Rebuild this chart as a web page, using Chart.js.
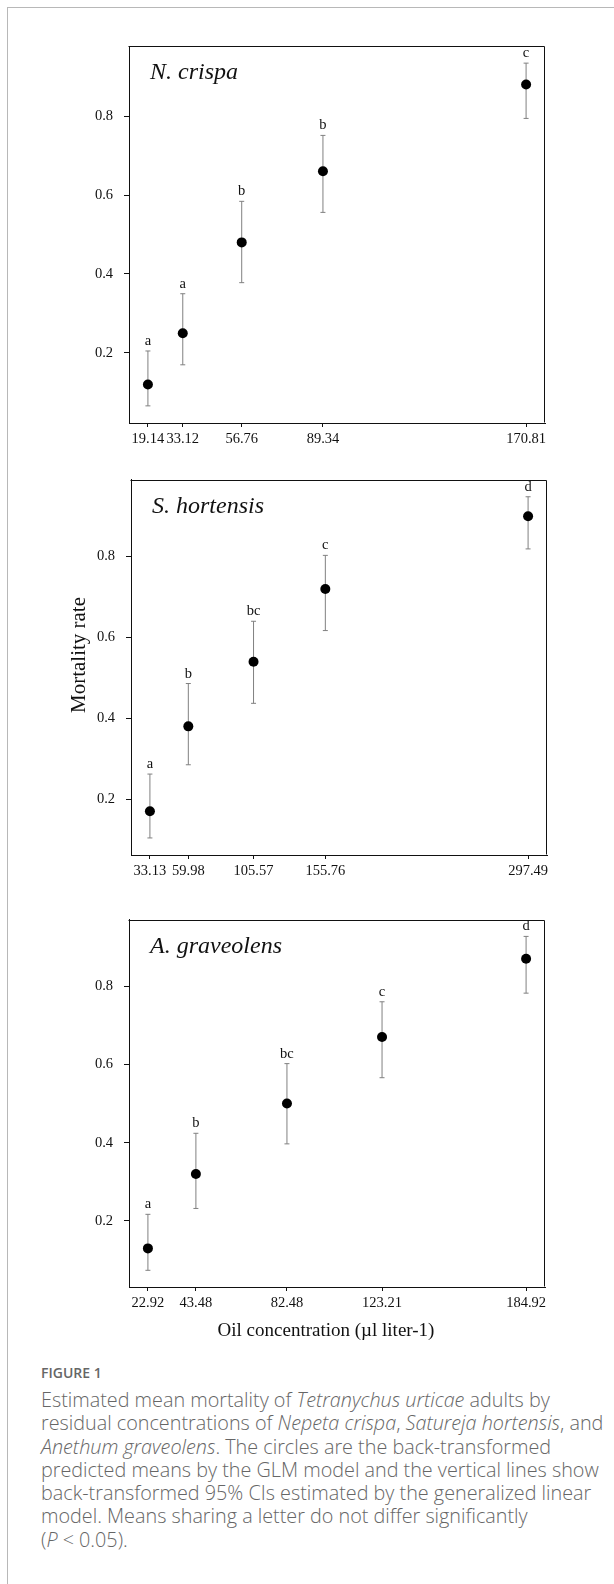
<!DOCTYPE html>
<html>
<head>
<meta charset="utf-8">
<script src="https://cdn.jsdelivr.net/npm/chart.js@4.4.1/dist/chart.umd.min.js"></script>
<style>
html,body{margin:0;padding:0;background:#fff;}
body{width:614px;height:1584px;position:relative;overflow:hidden;}
#frame{position:absolute;left:7px;top:7px;width:620px;height:1600px;border-top:1px solid #b8b8b8;border-left:1px solid #b8b8b8;}
canvas{position:absolute;left:0;}
#figlabel{position:absolute;left:41px;top:1363px;font-family:"Open Sans",sans-serif;font-size:14px;font-weight:600;line-height:20px;color:#666;white-space:nowrap;}
#caption{position:absolute;left:41px;top:1388px;font-family:"Open Sans",sans-serif;font-size:19.8px;font-weight:300;line-height:23.3px;color:#666;white-space:nowrap;}
</style>
</head>
<body>
<div id="frame"></div>
<canvas id="c1" width="614" height="460" style="top:0px"></canvas>
<canvas id="c2" width="614" height="440" style="top:460px"></canvas>
<canvas id="c3" width="614" height="450" style="top:900px"></canvas>
<div id="figlabel">FIGURE 1</div>
<div id="caption">Estimated mean mortality of <i>Tetranychus urticae</i> adults by<br>residual concentrations of <i>Nepeta crispa</i>, <i>Satureja hortensis</i>, and<br><i>Anethum graveolens</i>. The circles are the back-transformed<br>predicted means by the GLM model and the vertical lines show<br>back-transformed 95% CIs estimated by the generalized linear<br>model. Means sharing a letter do not differ significantly<br>(<i>P</i> &lt; 0.05).</div>
<script>
// ---- Data ----
const yTickValues = [0.2, 0.4, 0.6, 0.8];
const yTickLabels = ['0.2', '0.4', '0.6', '0.8'];

const nCrispaConc    = [19.14, 33.12, 56.76, 89.34, 170.81];
const nCrispaLabels  = ['19.14', '33.12', '56.76', '89.34', '170.81'];
const nCrispaMean    = [0.12, 0.25, 0.48, 0.66, 0.88];
const nCrispaLower   = [0.066, 0.17, 0.378, 0.556, 0.794];
const nCrispaUpper   = [0.205, 0.35, 0.584, 0.751, 0.934];
const nCrispaLetters = ['a', 'a', 'b', 'b', 'c'];

const sHortensisConc    = [33.13, 59.98, 105.57, 155.76, 297.49];
const sHortensisLabels  = ['33.13', '59.98', '105.57', '155.76', '297.49'];
const sHortensisMean    = [0.17, 0.38, 0.54, 0.72, 0.90];
const sHortensisLower   = [0.104, 0.285, 0.437, 0.617, 0.819];
const sHortensisUpper   = [0.262, 0.486, 0.64, 0.803, 0.948];
const sHortensisLetters = ['a', 'b', 'bc', 'c', 'd'];

const aGraveolensConc    = [22.92, 43.48, 82.48, 123.21, 184.92];
const aGraveolensLabels  = ['22.92', '43.48', '82.48', '123.21', '184.92'];
const aGraveolensMean    = [0.13, 0.32, 0.50, 0.67, 0.87];
const aGraveolensLower   = [0.074, 0.232, 0.397, 0.566, 0.782];
const aGraveolensUpper   = [0.217, 0.424, 0.602, 0.76, 0.927];
const aGraveolensLetters = ['a', 'b', 'bc', 'c', 'd'];

const yAxisTitle = 'Mortality rate';
const xAxisTitle = 'Oil concentration (\u00b5l liter-1)';

// ---- Drawing ----
const SERIF = '"Liberation Serif", "Times New Roman", serif';

const panelDeco = {
  id: 'panelDeco',
  afterDatasetsDraw(chart, args, o) {
    const {ctx, chartArea: a, scales: {x, y}} = chart;
    ctx.save();
    ctx.strokeStyle = '#111';
    ctx.lineWidth = 1;
    ctx.beginPath();
    const L = Math.round(a.left) - 0.5, R = Math.round(a.right) - 0.5;
    const T = Math.round(a.top) + 0.5, B = Math.round(a.bottom) - 0.5;
    ctx.moveTo(L, T); ctx.lineTo(R, T); ctx.lineTo(R, B);
    ctx.stroke();
    ctx.fillStyle = '#111';
    ctx.font = '14.5px ' + SERIF;
    ctx.textAlign = 'center';
    ctx.textBaseline = 'alphabetic';
    o.letters.forEach((t, i) => {
      ctx.fillText(t, x.getPixelForValue(o.conc[i]), y.getPixelForValue(o.upper[i]) - 6);
    });
    ctx.font = 'italic 24px ' + SERIF;
    ctx.textAlign = 'left';
    ctx.fillText(o.species, a.left + 21, a.top + 33);
    if (o.yTitle) {
      ctx.save();
      ctx.translate(o.yTitle.x, o.yTitle.y);
      ctx.rotate(-Math.PI / 2);
      ctx.font = '21px ' + SERIF;
      ctx.textAlign = 'center';
      ctx.textBaseline = 'middle';
      ctx.fillText(o.yTitle.text, 0, 0);
      ctx.restore();
    }
    if (o.xTitle) {
      ctx.font = '19px ' + SERIF;
      ctx.textAlign = 'center';
      ctx.textBaseline = 'middle';
      ctx.fillText(o.xTitle.text, o.xTitle.x, o.xTitle.y);
    }
    ctx.restore();
  }
};

function makePanel(id, conc, labels, mean, lower, upper, letters, species, box, extra) {
  const yLo = Math.min(...lower), yHi = Math.max(...upper);
  const xLo = conc[0], xHi = conc[conc.length - 1];
  const yPad = (yHi - yLo) * 0.05, xPad = (xHi - xLo) * 0.05;
  const errData = [];
  conc.forEach((c, i) => { errData.push({x: c, y: lower[i]}, {x: c, y: upper[i]}, {x: c, y: null}); });
  const canvas = document.getElementById(id);
  const H = canvas.height;
  const XH = 30;
  return new Chart(canvas.getContext('2d'), {
    type: 'scatter',
    data: {
      datasets: [
        {
          type: 'scatter',
          data: conc.map((c, i) => ({x: c, y: mean[i]})),
          pointRadius: 5,
          pointHoverRadius: 5,
          backgroundColor: '#000',
          borderColor: '#000',
          pointBorderWidth: 0,
          showLine: false
        },
        {
          type: 'line',
          data: errData,
          borderColor: '#808080',
          borderWidth: 1,
          pointStyle: 'line',
          pointRadius: 2.5,
          pointHoverRadius: 2.5,
          pointBorderColor: '#808080',
          pointBorderWidth: 1,
          pointBackgroundColor: '#808080',
          spanGaps: false,
          fill: false,
          tension: 0
        }
      ]
    },
    options: {
      responsive: false,
      animation: false,
      devicePixelRatio: 1,
      events: [],
      layout: {padding: {left: 0, right: 614 - box.right, top: box.top, bottom: H - box.bottom - XH}},
      plugins: {
        legend: {display: false},
        tooltip: {enabled: false},
        panelDeco: Object.assign({conc, upper, letters, species}, extra || {})
      },
      scales: {
        x: {
          type: 'linear',
          min: xLo - xPad,
          max: xHi + xPad,
          afterBuildTicks: s => { s.ticks = conc.map(v => ({value: v})); },
          afterFit: s => { s.height = XH; },
          grid: {display: true, drawOnChartArea: false, drawTicks: true, tickLength: 4, color: '#111'},
          border: {display: true, color: '#111', width: 1},
          ticks: {
            autoSkip: false, maxRotation: 0, minRotation: 0, padding: 3,
            color: '#111', font: {family: SERIF, size: 14.5},
            callback: v => { const k = conc.findIndex(c => Math.abs(c - v) < 1e-9); return k >= 0 ? labels[k] : ''; }
          }
        },
        y: {
          type: 'linear',
          min: yLo - yPad,
          max: yHi + yPad,
          afterBuildTicks: s => { s.ticks = yTickValues.map(v => ({value: v})); },
          afterFit: s => { s.width = box.left; },
          grid: {display: true, drawOnChartArea: false, drawTicks: true, tickLength: 5, color: '#111'},
          border: {display: true, color: '#111', width: 1},
          ticks: {
            padding: 11,
            color: '#111', font: {family: SERIF, size: 14.5},
            callback: v => { const k = yTickValues.findIndex(c => Math.abs(c - v) < 1e-9); return k >= 0 ? yTickLabels[k] : ''; }
          }
        }
      }
    },
    plugins: [panelDeco]
  });
}

makePanel('c1', nCrispaConc, nCrispaLabels, nCrispaMean, nCrispaLower, nCrispaUpper, nCrispaLetters,
  'N. crispa', {left: 129, right: 545, top: 46, bottom: 423});
makePanel('c2', sHortensisConc, sHortensisLabels, sHortensisMean, sHortensisLower, sHortensisUpper, sHortensisLetters,
  'S. hortensis', {left: 131, right: 547, top: 19, bottom: 395},
  {yTitle: {text: yAxisTitle, x: 79, y: 195}});
makePanel('c3', aGraveolensConc, aGraveolensLabels, aGraveolensMean, aGraveolensLower, aGraveolensUpper, aGraveolensLetters,
  'A. graveolens', {left: 129, right: 545, top: 12, bottom: 387},
  {xTitle: {text: xAxisTitle, x: 326, y: 431}});
</script>
</body>
</html>
